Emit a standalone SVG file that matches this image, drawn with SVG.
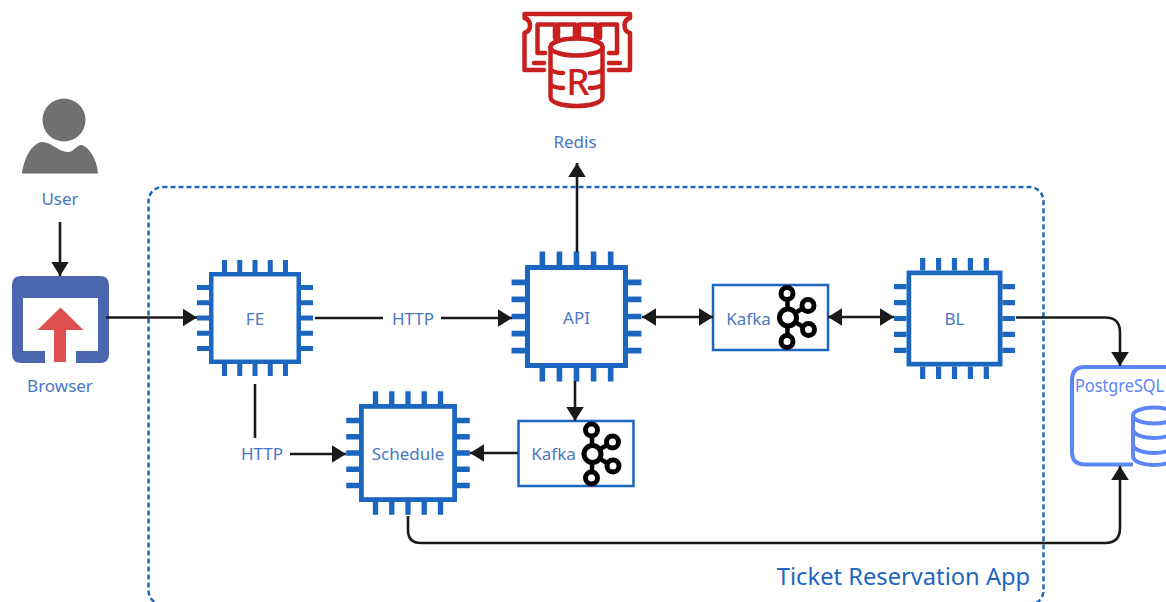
<svg xmlns="http://www.w3.org/2000/svg" xmlns:xlink="http://www.w3.org/1999/xlink" width="1166" height="602" viewBox="0 0 1166 602">
<style>
text{font-family:"Noto Sans","Open Sans","Liberation Sans",sans-serif;font-size:17px;fill:#4a76c2;text-anchor:middle}
.c{fill:none;stroke:#1a1a1a;stroke-width:2.6;stroke-linecap:butt;stroke-linejoin:round}
.chip{fill:#fff;stroke:#1d66c0;stroke-width:4.500}
.pin{fill:none;stroke:#1d66c0;stroke-width:5}
.kbox{fill:#fff;stroke:#1d66c0;stroke-width:2.500}
.k{fill:#fff;stroke:#000;stroke-width:5}
.kl{fill:none;stroke:#000;stroke-width:4.500}
.red{fill:none;stroke:#c8201f;stroke-width:4.500;stroke-linejoin:round;stroke-linecap:round}
.pg{fill:none;stroke:#5c86f5;stroke-width:4}
</style>
<defs>
<marker id="a" markerUnits="userSpaceOnUse" markerWidth="15" markerHeight="18" refX="14" refY="9" orient="auto-start-reverse"><path d="M0 0.250L14 9L0 17.750Z" fill="#1a1a1a"/></marker>
<g id="chip">
<path class="pin" d="M-30.500-46V-58M-15.250-46V-58M0-46V-58M15.250-46V-58M30.500-46V-58M-30.500 46V58M-15.250 46V58M0 46V58M15.250 46V58M30.500 46V58M-46-30.500H-58M-46-15.250H-58M-46 0H-58M-46 15.250H-58M-46 30.500H-58M46-30.500H58M46-15.250H58M46 0H58M46 15.250H58M46 30.500H58"/>
<rect class="chip" x="-43.750" y="-43.750" width="87.500" height="87.500"/>
</g>
<g id="kafka">
<path class="kl" d="M0-24V24M0 0L20-12M0 0L20 12"/>
<circle class="k" cx="0.500" cy="0" r="8.500"/>
<circle class="k" cx="-0.500" cy="-24" r="6"/>
<circle class="k" cx="-0.500" cy="24" r="6"/>
<circle class="k" cx="20.500" cy="-12" r="6"/>
<circle class="k" cx="21" cy="12" r="6"/>
</g>
</defs>
<rect id="frame" x="148.500" y="187" width="895" height="417.500" rx="14" fill="none" stroke="#1d66b8" stroke-width="2.500" stroke-dasharray="5 3"/>
<text x="903.500" y="585" style="font-size:23.700px;fill:#1f66bd">Ticket Reservation App</text>

<g id="redis">
<path class="red" d="M544 70H524.500V33C528 32 530 29 530 25.500C530 22 528 19 524.500 18V14H630V18C626.500 19 624.500 22 624.500 25.500C624.500 29 626.500 32 630 33V70H609"/>
<path class="red" d="M544 63H534M609 63H620"/>
<path class="red" d="M545 53H537.500V24.500H555V38M558 38V24.500H575V38M579 38V24.500H596V38M600 38V24.500H617V53H609"/>
<path class="red" style="fill:#fff" d="M550.500 47C550.500 36 602.500 36 602.500 47V97C602.500 109 550.500 109 550.500 97Z"/>
<ellipse class="red" style="fill:#fff" cx="576.500" cy="47" rx="26" ry="8.500"/>
<path class="red" d="M551 70C554 72 558 73 563 73M602 70C599 72 595 73 590 73M551 85C554 87 558 88 563 88M602 85C599 87 595 88 590 88"/>
<text x="578" y="95" style="font-size:37px;font-weight:500;fill:#c8201f">R</text>
<text x="575" y="148">Redis</text>
</g>

<g id="user">
<circle cx="64" cy="120" r="21.500" fill="#707070"/>
<path fill="#707070" d="M22 173.500C24 158 32 143 42 142C52 142 58 152 68 152C74 152 76 145 82 145C90 148 97 160 98 173.500Z"/>
<text x="60" y="205">User</text>
</g>

<g id="browser">
<path fill="#4a66ae" fill-rule="evenodd" d="M21 276H100Q109 276 109 285V354Q109 363 100 363H76V351H98V298H23V351H45V363H21Q12 363 12 354V285Q12 276 21 276Z"/>
<path fill="#e04f4f" d="M60.500 307.500L83.500 330H66V362H54V330H37.500Z"/>
<text x="60" y="392">Browser</text>
</g>

<g id="fe"><use xlink:href="#chip" href="#chip" transform="translate(255 318)"/><text x="255" y="325">FE</text></g>
<g id="api"><use xlink:href="#chip" href="#chip" transform="translate(576.500 316.500) scale(1.12)"/><text x="576.500" y="323.500">API</text></g>
<g id="schedule"><use xlink:href="#chip" href="#chip" transform="translate(408 453) scale(1.065)"/><text x="408" y="460">Schedule</text></g>
<g id="bl"><use xlink:href="#chip" href="#chip" transform="translate(954.500 318.500) scale(1.043)"/><text x="954.500" y="325">BL</text></g>

<g id="kafka1"><rect class="kbox" x="713" y="285" width="115" height="65"/><text x="748.500" y="325">Kafka</text><use xlink:href="#kafka" href="#kafka" transform="translate(787.500 317.500)"/></g>
<g id="kafka2"><rect class="kbox" x="518.500" y="421" width="115" height="65"/><text x="553.500" y="460">Kafka</text><use xlink:href="#kafka" href="#kafka" transform="translate(592 454)"/></g>

<g id="postgres">
<path class="pg" d="M1133 464.500H1085Q1072 464.500 1072 452V380Q1072 367 1085 367H1166"/>
<text transform="translate(1075 392) scale(0.880 1)" style="font-size:18.500px;fill:#5c86f5;text-anchor:start">PostgreSQL</text>
<ellipse class="pg" cx="1154" cy="415.500" rx="21" ry="8"/>
<path class="pg" d="M1133 415.500V456C1133 468 1175 468 1175 456V415.500M1133 429C1133 441 1175 441 1175 429M1133 444C1133 456 1175 456 1175 444"/>
</g>

<g id="connectors">
<path class="c" marker-end="url(#a)" d="M60 222V276"/>
<path class="c" marker-end="url(#a)" d="M106 317.500H197"/>
<path class="c" d="M315 318H383"/>
<path class="c" marker-end="url(#a)" d="M441 318H512"/>
<text x="413" y="324.500">HTTP</text>
<path class="c" marker-end="url(#a)" d="M577 252V163"/>
<path class="c" marker-start="url(#a)" marker-end="url(#a)" d="M642 317H713"/>
<path class="c" marker-start="url(#a)" marker-end="url(#a)" d="M828 317H894"/>
<path class="c" marker-end="url(#a)" d="M1016 317.500H1105Q1120 317.500 1120 332V366"/>
<path class="c" d="M255 384V438"/>
<text x="262" y="460">HTTP</text>
<path class="c" marker-end="url(#a)" d="M290 454H346"/>
<path class="c" marker-end="url(#a)" d="M575 381V421"/>
<path class="c" marker-end="url(#a)" d="M518 453H470"/>
<path class="c" marker-end="url(#a)" d="M408 516V530Q408 543 421 543H1105Q1120 543 1120 528V466"/>
</g>
</svg>
